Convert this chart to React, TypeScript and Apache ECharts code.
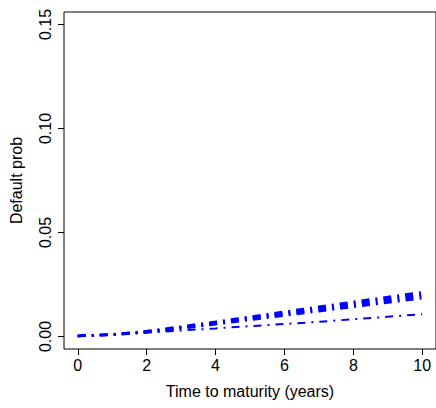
import React, { useEffect, useRef } from "react";
import * as echarts from "echarts";

const times = [0, 1, 2, 3, 4, 5, 6, 7, 8, 9, 10];
const upperA = [0.0003, 0.0008, 0.002, 0.0039, 0.0059, 0.008, 0.0101, 0.0122, 0.0143, 0.0164, 0.0184];
const upperB = [0.0003, 0.0009, 0.0022, 0.0042, 0.0063, 0.0085, 0.0107, 0.0129, 0.0151, 0.0173, 0.0195];
const upperC = [0.0003, 0.0009, 0.0024, 0.0045, 0.0067, 0.009, 0.0113, 0.0136, 0.0159, 0.0182, 0.0204];
const upperD = [0.0003, 0.001, 0.0026, 0.0048, 0.0071, 0.0095, 0.0119, 0.0143, 0.0167, 0.019, 0.0213];
const lower = [0.0003, 0.0009, 0.0019, 0.0029, 0.0039, 0.005, 0.006, 0.0071, 0.0083, 0.0095, 0.0107];
const xTicks = [0, 2, 4, 6, 8, 10];
const yTicks = [0, 0.05, 0.1, 0.15];

const FONT = "Liberation Sans, Arial, Helvetica, sans-serif";

export default function App() {
  const ref = useRef<HTMLDivElement>(null);
  useEffect(() => {
    if (!ref.current) return;
    const chart = echarts.init(ref.current, undefined, { renderer: "svg" });
    const mk = (vals: number[], w: number) => ({
      type: "line",
      data: times.map((t, i) => [t, vals[i]]),
      showSymbol: false,
      smooth: false,
      lineStyle: { color: "#0000ff", width: w, type: [8, 6, 2, 6], dashOffset: 0 },
      silent: true,
    });
    chart.setOption({
      animation: false,
      backgroundColor: "#ffffff",
      grid: {
        left: 62,
        top: 12,
        width: 376,
        height: 337,
        show: true,
        borderColor: "#000",
        borderWidth: 1,
        backgroundColor: "transparent",
      },
      xAxis: {
        type: "value",
        min: -0.4,
        max: 10.4,
        name: "Time to maturity (years)",
        nameLocation: "middle",
        nameGap: 34,
        nameTextStyle: { fontFamily: FONT, fontSize: 16, color: "#000" },
        axisLine: { show: false, onZero: false },
        splitLine: { show: false },
        axisTick: { show: true, length: 6, lineStyle: { color: "#000" }, customValues: xTicks },
        axisLabel: {
          fontFamily: FONT,
          fontSize: 16,
          color: "#000",
          margin: 8,
          customValues: xTicks,
          formatter: (v: number) => String(v),
        },
      },
      yAxis: {
        type: "value",
        min: -0.006,
        max: 0.156,
        name: "Default prob",
        nameLocation: "middle",
        nameGap: 40,
        nameRotate: 90,
        nameTextStyle: { fontFamily: FONT, fontSize: 16, color: "#000" },
        axisLine: { show: false, onZero: false },
        splitLine: { show: false },
        axisTick: { show: true, length: 6, lineStyle: { color: "#000" }, customValues: yTicks },
        axisLabel: {
          fontFamily: FONT,
          fontSize: 16,
          color: "#000",
          rotate: 90,
          margin: 11,
          customValues: yTicks,
          formatter: (v: number) => v.toFixed(2),
        },
      },
      series: [mk(lower, 2), mk(upperA, 2.5), mk(upperB, 2.5), mk(upperC, 2.5), mk(upperD, 2.5)],
    });
    return () => chart.dispose();
  }, []);
  return <div ref={ref} style={{ width: 436, height: 408, position: "absolute", left: 0, top: 0 }} />;
}
